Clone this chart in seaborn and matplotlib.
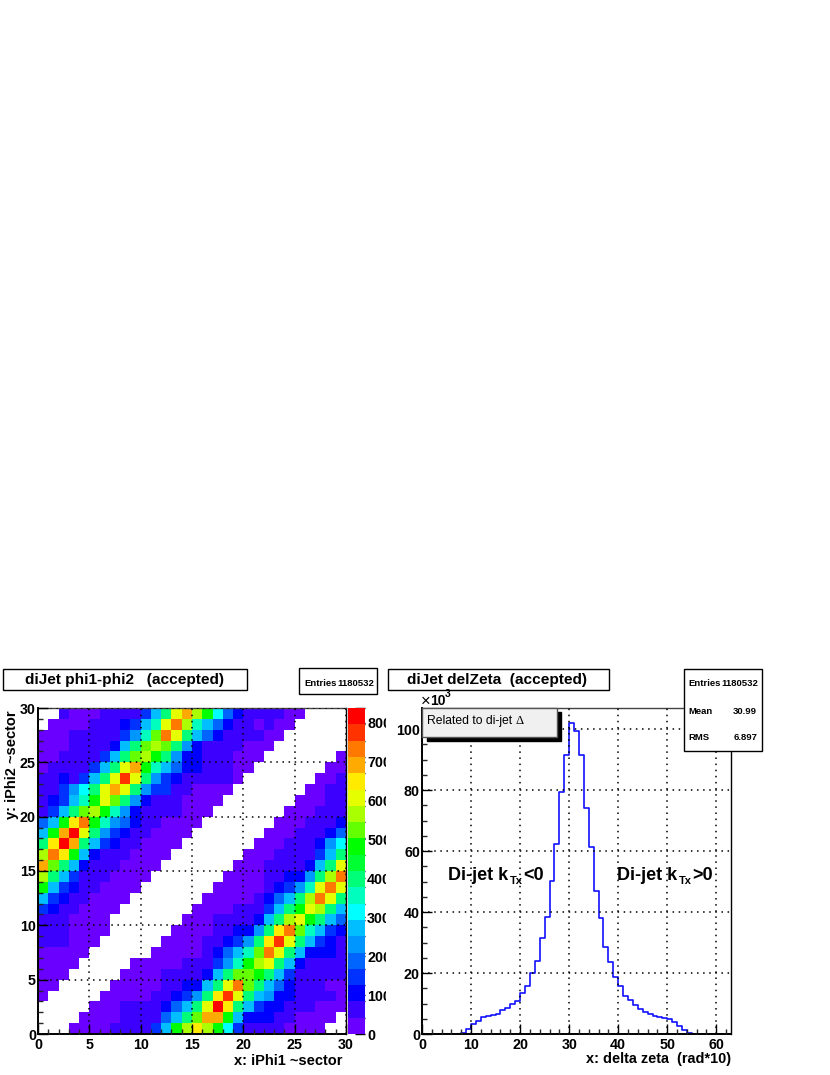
import matplotlib
matplotlib.use('Agg')
import matplotlib.pyplot as plt
from matplotlib.colors import ListedColormap, BoundaryNorm
from matplotlib.patches import Rectangle
from matplotlib.transforms import Bbox
import numpy as np
import pandas as pd
import seaborn as sns

# shade read for each cell, top row first, -1 = empty
shade_rows = [
    [-1,-1,1,0,0,0,1,1,1,2,4,7,10,14,16,13,11,8,5,3,1,1,1,2,0,0,-1,-1,-1,-1],
    [-1,0,0,0,0,1,1,1,3,4,7,9,14,17,13,9,7,5,3,2,1,0,1,0,0,-1,-1,-1,-1,-1],
    [0,0,0,1,1,1,1,2,4,6,9,12,17,14,10,7,5,3,2,2,1,1,0,0,-1,-1,-1,-1,-1,-1],
    [0,0,0,1,1,1,1,3,7,10,12,13,12,10,6,3,2,2,2,1,0,0,0,-1,-1,-1,-1,-1,-1,-1],
    [0,0,1,1,1,2,4,7,10,12,13,11,10,6,3,3,2,2,1,0,0,0,-1,-1,-1,-1,-1,-1,-1,0],
    [0,1,1,2,2,4,7,10,14,16,11,9,7,5,3,3,2,1,1,0,0,-1,-1,-1,-1,-1,-1,-1,0,0],
    [1,1,3,2,4,7,10,14,18,14,10,6,4,3,2,1,1,2,1,0,-1,-1,-1,-1,-1,-1,-1,0,0,2],
    [1,1,4,6,8,10,14,16,14,10,6,4,4,2,1,0,0,0,0,-1,-1,-1,-1,-1,-1,-1,0,0,1,2],
    [2,3,4,7,9,11,14,12,10,6,3,2,1,1,0,0,0,0,-1,-1,-1,-1,-1,-1,-1,0,0,0,1,2],
    [2,4,7,10,12,13,11,9,6,3,2,1,2,1,0,0,0,-1,-1,-1,-1,-1,-1,-1,0,0,0,1,1,2],
    [5,7,11,15,17,11,9,6,5,3,2,1,0,0,0,0,-1,-1,-1,-1,-1,-1,-1,0,0,0,1,1,2,3],
    [7,11,16,19,14,10,6,4,3,1,2,0,0,0,0,-1,-1,-1,-1,-1,-1,-1,0,0,0,1,2,2,3,5],
    [10,15,19,16,10,7,4,3,1,1,0,0,0,0,-1,-1,-1,-1,-1,-1,-1,0,0,0,1,1,2,3,6,8],
    [13,17,15,11,7,3,2,1,1,0,0,0,0,-1,-1,-1,-1,-1,-1,-1,0,0,0,1,1,2,2,4,7,10],
    [16,12,10,7,3,1,1,1,0,0,0,0,-1,-1,-1,-1,-1,-1,-1,0,0,0,2,2,1,2,3,7,10,14],
    [13,10,7,4,2,1,1,0,0,0,0,-1,-1,-1,-1,-1,-1,-1,0,0,0,0,2,2,3,3,6,10,13,17],
    [11,7,4,3,1,1,0,0,0,0,-1,-1,-1,-1,-1,-1,-1,0,0,0,0,0,2,3,4,6,9,14,17,14],
    [7,4,3,1,1,0,0,0,0,-1,-1,-1,-1,-1,-1,-1,0,0,0,0,0,2,3,5,7,10,13,17,14,10],
    [4,3,1,2,0,0,0,0,-1,-1,-1,-1,-1,-1,-1,0,0,0,0,1,1,2,4,7,10,11,14,13,10,7],
    [2,1,1,0,0,0,0,-1,-1,-1,-1,-1,-1,-1,0,0,0,1,1,1,2,3,7,10,13,14,11,10,7,5],
    [2,2,2,0,0,0,0,-1,-1,-1,-1,-1,-1,0,0,0,0,1,2,3,3,6,10,15,17,12,9,7,4,3],
    [1,1,1,0,0,0,-1,-1,-1,-1,-1,-1,0,0,0,0,1,2,3,4,6,10,15,18,14,10,7,4,3,1],
    [0,0,0,0,0,-1,-1,-1,-1,-1,-1,0,0,0,0,0,2,3,5,7,9,12,17,14,10,7,3,3,3,1],
    [0,0,0,0,-1,-1,-1,-1,-1,0,0,0,0,0,1,1,2,4,6,9,11,13,14,10,7,3,1,1,1,1],
    [0,0,0,-1,-1,-1,-1,-1,0,0,0,0,1,1,1,2,3,7,10,12,12,11,10,7,4,1,1,1,1,1],
    [0,0,-1,-1,-1,-1,-1,0,0,0,0,0,1,2,3,3,7,10,14,17,12,10,7,5,3,2,1,1,0,0],
    [0,-1,-1,-1,-1,-1,0,0,0,0,0,1,1,3,4,6,10,15,18,14,10,7,6,3,3,2,1,1,1,0],
    [-1,-1,-1,-1,-1,0,0,0,1,1,1,2,3,5,7,10,14,19,15,10,7,4,3,3,1,1,1,0,0,0],
    [-1,-1,-1,-1,0,0,0,0,1,1,1,1,5,7,10,12,16,16,11,7,3,3,3,1,1,0,0,0,0,-1],
    [-1,-1,-1,0,0,0,0,1,1,1,1,4,7,11,13,15,13,11,8,4,1,1,1,1,0,0,0,0,-1,-1],
]
# shade read above -> colour band of the z scale
shade_to_band = [0, 1, 1, 2, 3, 4, 5, 6, 7, 8, 9, 11, 12, 13, 14, 15, 16, 17, 18, 19]
band_colors = ['#6a00ff', '#3c00ff', '#0000ff', '#0032ff', '#0064ff', '#0096ff', '#00beff',
               '#00ffff', '#00ffbe', '#00ff78', '#00ff32', '#00ff00', '#64ff00', '#aaff00',
               '#e6ff00', '#ffeb00', '#ffaa00', '#ff7800', '#ff3200', '#ff0000']
band_step = 41.9
z_ticks = [0, 100, 200, 300, 400, 500, 600, 700, 800]

# delta zeta histogram, x1000 per bin, bins 0..63
zeta_counts = [0, 0, 0, 0, 0, 0, 0, 0, 0.4, 1.5, 3.2, 4.3, 5.5, 5.8, 6.2, 6.7, 7.8, 8.4, 9.9, 10.7,
               13.6, 15.7, 20.0, 23.9, 31.5, 38.5, 50.2, 62.3, 79.5, 91.4, 101.9, 99.5, 91.4, 74.2,
               61.4, 47.0, 37.9, 28.5, 23.5, 18.6, 15.6, 12.5, 11.0, 9.4, 8.3, 7.1, 6.6, 6.0, 5.6,
               5.1, 4.8, 3.9, 2.6, 1.4, 0.4, 0.1, 0, 0, 0, 0, 0, 0, 0]

W, H = 830, 1075
sns.set_theme(style='white')
plt.rcParams['font.family'] = ['Liberation Sans', 'DejaVu Sans']
plt.rcParams['font.weight'] = 'bold'
plt.rcParams['axes.edgecolor'] = 'black'
plt.rcParams['axes.linewidth'] = 1.0
fig = plt.figure(figsize=(W / 100, H / 100), dpi=100)


def px_axes(x0, y0, x1, y1):
    return fig.add_axes([x0 / W, 1 - y1 / H, (x1 - x0) / W, (y1 - y0) / H])


def px_box(x0, y0, x1, y1, face='white', edge='black', lw=1.0, z=10):
    fig.add_artist(Rectangle((x0 / W, 1 - y1 / H), (x1 - x0) / W, (y1 - y0) / H, transform=fig.transFigure,
                             facecolor=face, edgecolor=edge, linewidth=lw, zorder=z))


def px_text(x, y, s, size, ha='left', weight='bold', z=11, **kw):
    fig.text(x / W, 1 - y / H, s, fontsize=size, ha=ha, va='center', fontweight=weight, color='black', zorder=z, **kw)


def root_ticks(ax):
    ax.tick_params(axis='both', which='major', direction='in', length=7, width=1, bottom=True, left=True,
                   top=False, right=False, labelsize=10.3, pad=3, color='black', labelcolor='black')
    ax.tick_params(axis='y', which='major', pad=1.5)
    ax.tick_params(axis='both', which='minor', direction='in', length=3.6, width=1, bottom=True, left=True,
                   top=False, right=False)
    ax.set_axisbelow(False)
    ax.grid(True, which='major', color='black', linestyle=(0, (1, 3)), linewidth=1.1)
    for side in ['left', 'bottom']:
        ax.spines[side].set_linewidth(1.4)
    ax.spines['top'].set_color('#444444')


# left panel
shade_array = np.array(shade_rows)[::-1]
band_array = np.take(shade_to_band, shade_array.clip(0))
z_df = pd.DataFrame((band_array + 0.5) * band_step)
bounds = [i * band_step for i in range(len(band_colors) + 1)]
ax1 = px_axes(38, 708, 346, 1034)
cax = px_axes(348, 708, 365, 1034)
sns.heatmap(z_df, mask=shade_array < 0, cmap=ListedColormap(band_colors), norm=BoundaryNorm(bounds, len(band_colors)),
            ax=ax1, cbar_ax=cax, cbar_kws={'ticks': z_ticks}, xticklabels=False, yticklabels=False)
ax1.set_xlim(0, 30)
ax1.set_ylim(0, 30)
ax1.set_xticks(range(0, 31, 5))
ax1.set_xticklabels(range(0, 31, 5))
ax1.set_yticks(range(0, 31, 5))
ax1.set_yticklabels(range(0, 31, 5), rotation=0)
ax1.set_xticks(range(0, 31), minor=True)
ax1.set_yticks(range(0, 31), minor=True)
root_ticks(ax1)
for side in ['top', 'right', 'left', 'bottom']:
    ax1.spines[side].set_visible(True)
cax.tick_params(axis='y', which='both', direction='in', length=7, width=1, right=True, left=False, labelsize=10.3,
                pad=1.5, color='black', labelcolor='black')
for sp in cax.spines.values():
    sp.set_visible(False)
clip = Bbox.from_extents(340, 0, 386, H)
fig.canvas.draw()
for lab in cax.get_yticklabels():
    lab.set_clip_box(clip)
    lab.set_clip_on(True)

# right panel
ax2 = px_axes(422, 708, 731, 1034)
bin_centers = np.arange(63) + 0.5
sns.histplot(x=bin_centers, weights=zeta_counts, bins=63, binrange=(0, 63), element='step', fill=False, color='#1010ff',
             linewidth=1.2, ax=ax2)
ax2.set_xlim(0, 63)
ax2.set_ylim(0, 106.9)
ax2.set_xticks(range(0, 61, 10))
ax2.set_yticks(range(0, 101, 20))
ax2.set_xticks(range(0, 63, 2), minor=True)
ax2.set_yticks(range(0, 106, 5), minor=True)
ax2.set_xlabel('')
ax2.set_ylabel('')
root_ticks(ax2)

# boxes and text
px_box(3, 669, 247, 690)
px_text(25, 680, 'diJet phi1-phi2   (accepted)', 11.1)
px_box(299, 668, 377, 694)
px_text(304, 683, 'Entries', 6.8)
px_text(374, 683, '1180532', 6.8, ha='right')
px_box(388, 669, 609, 690)
px_text(407, 680, 'diJet delZeta  (accepted)', 11.1)
px_box(684, 669, 762, 751)
px_text(688, 683, 'Entries', 6.8)
px_text(758, 683, '1180532', 6.8, ha='right')
px_text(688, 711, 'Mean', 6.8)
px_text(757, 711, '30.99', 6.8, ha='right')
px_text(688, 738, 'RMS', 6.8)
px_text(757, 738, '6.897', 6.8, ha='right')
px_box(427, 712, 561, 741, face='black')
px_box(422, 708, 557, 737, face='#f0f0f0', edge='#555555', z=10.5)
px_text(427, 721, 'Related to di-jet', 8.7, weight='normal')
px_text(516, 721, '\u0394', 9, weight='normal', family=['Liberation Serif'])
px_text(421, 701, '\u00d7', 12, weight='normal')
px_text(430, 701, '10', 10)
px_text(445, 694, '3', 7.5)
px_text(342, 1061, 'x: iPhi1 ~sector', 10.5, ha='right')
px_text(731, 1059, 'x: delta zeta  (rad*10)', 10.45, ha='right')
fig.text(12 / W, 1 - 710 / H, 'y: iPhi2 ~sector', fontsize=10.5, rotation=90, ha='center', va='top', fontweight='bold',
         color='black')
px_text(448, 875, 'Di-jet k', 13)
px_text(510, 881, 'Tx', 8)
px_text(523.5, 875, '<0', 13)
px_text(617, 875, 'Di-jet k', 13)
px_text(679, 881, 'Tx', 8)
px_text(692.5, 875, '>0', 13)

fig.savefig('out.png', dpi=100)
